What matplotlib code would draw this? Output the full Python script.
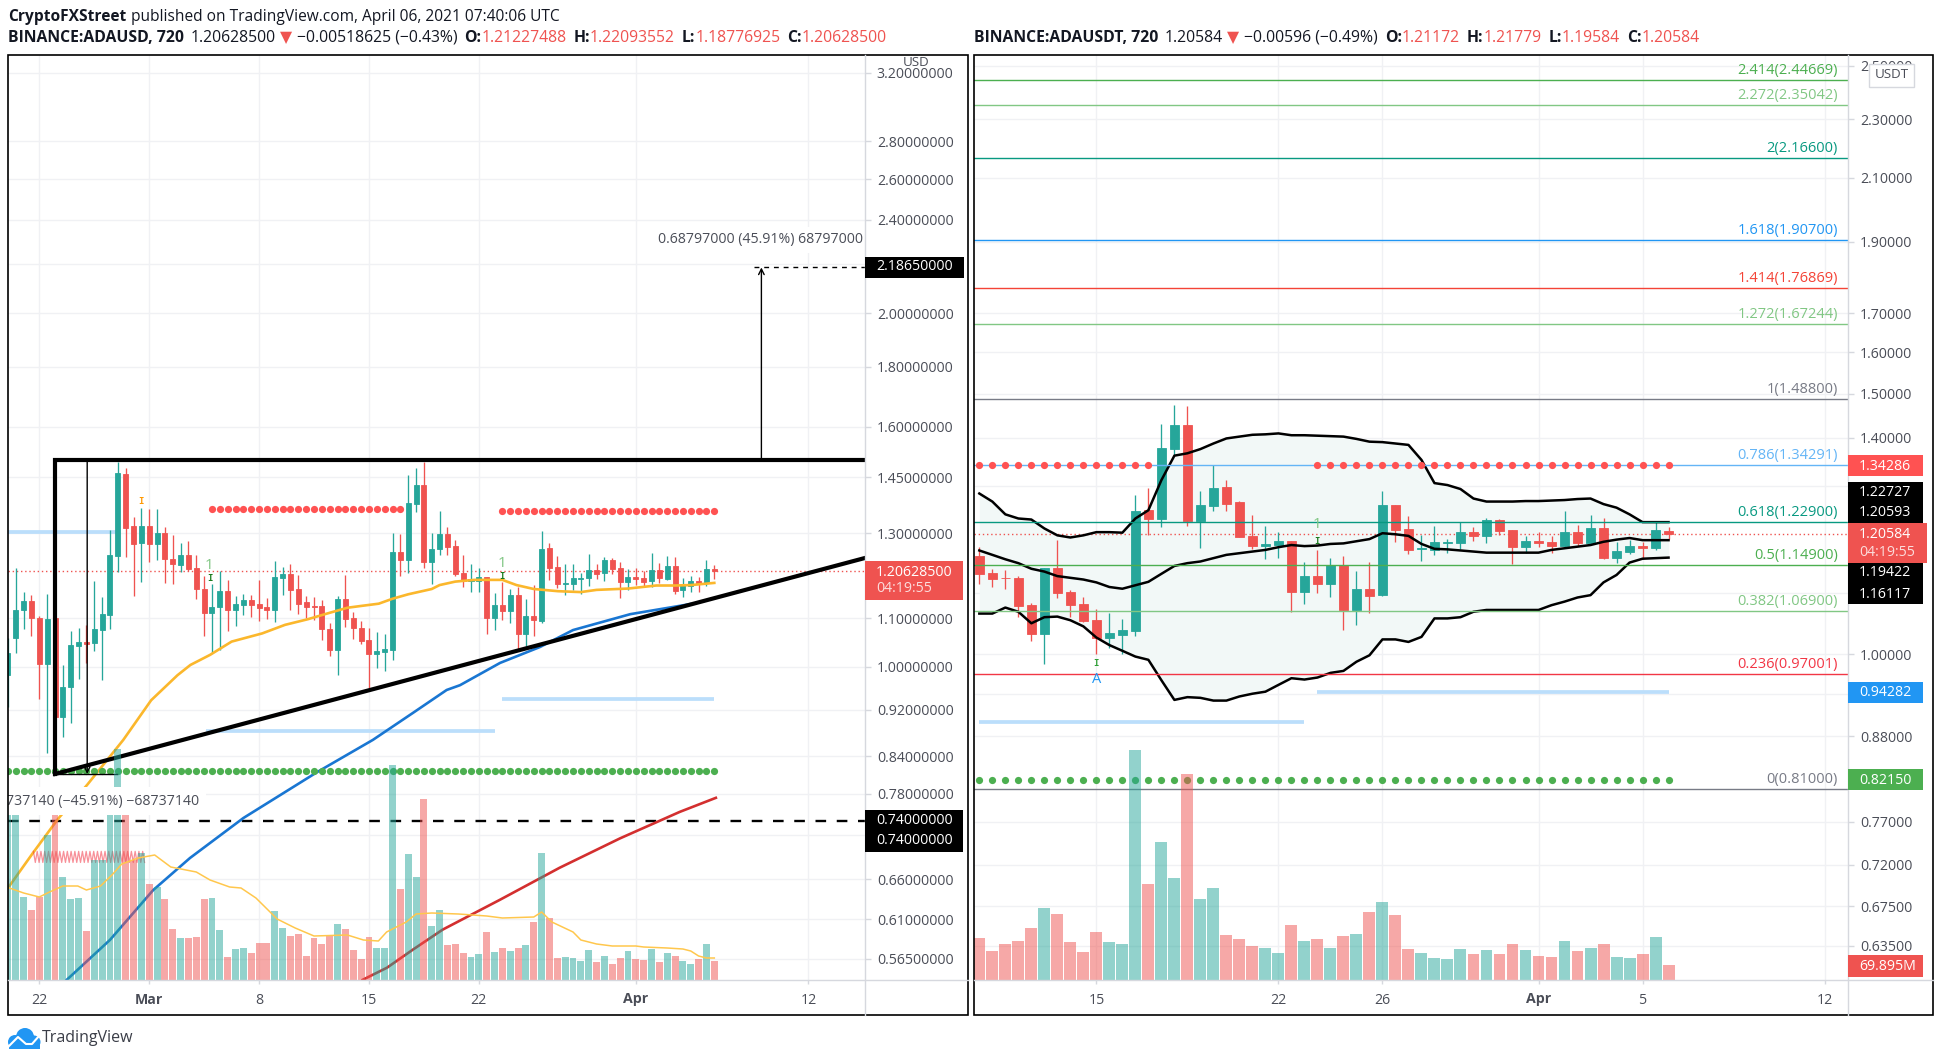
import numpy as np
import matplotlib
matplotlib.use('Agg')
import matplotlib.pyplot as plt
from matplotlib.patches import Rectangle, Circle

plt.rcParams['font.family'] = ['Open Sans', 'DejaVu Sans']

# ADAUSD, barras de 12h, indice 0 = 22 fev
usd_open = [0.985, 1.059, 1.117, 1.138, 1.100, 1.005, 1.100, 0.907, 0.962, 1.042, 1.050, 1.048, 1.075, 1.107, 1.243,
            1.459, 1.318, 1.275, 1.318, 1.272, 1.300, 1.235, 1.221, 1.245, 1.214, 1.165, 1.112, 1.125, 1.160, 1.118,
            1.129, 1.140, 1.131, 1.125, 1.118, 1.190, 1.200, 1.165, 1.136, 1.127, 1.127, 1.077, 1.034, 1.142, 1.100,
            1.079, 1.054, 1.026, 1.030, 1.034, 1.253, 1.233, 1.376, 1.428, 1.228, 1.260, 1.297, 1.267, 1.202, 1.183,
            1.183, 1.193, 1.100, 1.129, 1.116, 1.151, 1.067, 1.105, 1.094, 1.263, 1.216, 1.177, 1.176, 1.189, 1.190,
            1.209, 1.202, 1.233, 1.214, 1.181, 1.193, 1.190, 1.183, 1.209, 1.188, 1.219, 1.163, 1.172, 1.183, 1.179,
            1.2123]
usd_high = [1.058, 1.213, 1.158, 1.151, 1.104, 1.153, 1.104, 1.004, 1.073, 1.079, 1.086, 1.184, 1.147, 1.308, 1.494,
            1.477, 1.341, 1.365, 1.363, 1.363, 1.315, 1.295, 1.275, 1.280, 1.245, 1.195, 1.176, 1.207, 1.186, 1.149,
            1.153, 1.151, 1.186, 1.145, 1.231, 1.216, 1.224, 1.197, 1.149, 1.147, 1.140, 1.090, 1.149, 1.197, 1.113,
            1.094, 1.079, 1.071, 1.067, 1.300, 1.297, 1.456, 1.477, 1.494, 1.300, 1.357, 1.315, 1.282, 1.245, 1.224,
            1.214, 1.193, 1.156, 1.181, 1.165, 1.170, 1.143, 1.174, 1.305, 1.275, 1.243, 1.224, 1.224, 1.202, 1.248,
            1.224, 1.240, 1.238, 1.228, 1.211, 1.214, 1.207, 1.250, 1.226, 1.243, 1.240, 1.190, 1.195, 1.193, 1.233,
            1.2209]
usd_low = [0.925, 1.028, 1.077, 1.063, 0.939, 0.845, 0.815, 0.872, 0.897, 0.977, 1.007, 1.032, 0.975, 1.077, 1.205,
           1.240, 1.149, 1.181, 1.228, 1.233, 1.179, 1.176, 1.205, 1.207, 1.143, 1.062, 1.028, 1.034, 1.073, 1.084,
           1.107, 1.103, 1.094, 1.098, 1.092, 1.151, 1.118, 1.110, 1.100, 1.096, 1.054, 1.022, 0.984, 1.081, 1.056,
           1.046, 0.959, 0.998, 0.992, 1.014, 1.195, 1.202, 1.355, 1.214, 1.176, 1.245, 1.245, 1.195, 1.169, 1.158,
           1.158, 1.067, 1.075, 1.096, 1.090, 1.034, 1.042, 1.062, 1.090, 1.186, 1.167, 1.151, 1.163, 1.153, 1.172,
           1.188, 1.183, 1.200, 1.145, 1.163, 1.174, 1.169, 1.169, 1.179, 1.186, 1.153, 1.147, 1.158, 1.158, 1.172,
           1.1878]
usd_close = [1.027, 1.118, 1.138, 1.101, 1.005, 1.098, 0.907, 0.962, 1.044, 1.050, 1.047, 1.077, 1.110, 1.245, 1.462,
             1.313, 1.272, 1.318, 1.272, 1.300, 1.235, 1.223, 1.245, 1.211, 1.165, 1.112, 1.125, 1.160, 1.118, 1.131,
             1.140, 1.129, 1.122, 1.118, 1.193, 1.200, 1.163, 1.131, 1.125, 1.125, 1.077, 1.034, 1.142, 1.098, 1.079,
             1.052, 1.026, 1.032, 1.036, 1.253, 1.233, 1.379, 1.428, 1.228, 1.260, 1.297, 1.265, 1.200, 1.183, 1.188,
             1.193, 1.100, 1.129, 1.116, 1.151, 1.067, 1.105, 1.096, 1.260, 1.214, 1.176, 1.179, 1.190, 1.190, 1.209,
             1.200, 1.233, 1.211, 1.181, 1.193, 1.189, 1.181, 1.209, 1.190, 1.219, 1.160, 1.174, 1.183, 1.179, 1.211,
             1.2063]
usd_volume = [177, 177, 83, 70, 83, 145, 177, 103, 81, 82, 49, 120, 120, 177, 231, 177, 120, 127, 96, 93, 81, 51, 42,
              42, 43, 81, 82, 50, 23, 31, 32, 27, 37, 37, 69, 52, 44, 46, 24, 42, 36, 45, 56, 51, 30, 21, 43, 32, 32,
              215, 91, 126, 103, 181, 54, 70, 35, 36, 27, 23, 26, 48, 28, 32, 29, 32, 35, 58, 127, 62, 22, 23, 22, 19,
              30, 18, 24, 16, 22, 29, 21, 20, 31, 18, 27, 24, 19, 16, 21, 36, 19]

# medias e linhas da esquerda
ma_yellow_x = [-3.9, -0.8, 2.4, 6.1, 10.7, 14.25, 17.6, 19.25, 21.75, 24.5, 28.4, 31.3, 34.2, 37, 39.25, 41, 43.25, 45,
               47, 50, 51, 53, 55.4, 59, 60.8, 63, 66.1, 69, 71, 75, 78.6, 81, 83, 86]
ma_yellow = [0.650, 0.695, 0.743, 0.794, 0.867, 0.937, 0.984, 1.004, 1.024, 1.051, 1.068, 1.086, 1.098, 1.112, 1.123,
             1.127, 1.132, 1.143, 1.153, 1.165, 1.174, 1.182, 1.186, 1.186, 1.174, 1.165, 1.160, 1.158, 1.163, 1.166,
             1.173, 1.173, 1.174, 1.179]
ma_blue_x = [3.5, 9.0, 14.5, 19.2, 26, 35.4, 42.5, 47.6, 51.9, 53.6, 58.7, 63.8, 68, 75.3, 82.9]
ma_blue = [0.542, 0.586, 0.646, 0.688, 0.744, 0.814, 0.867, 0.914, 0.956, 0.965, 1.008, 1.040, 1.075, 1.109, 1.131]
ma_red_x = [41.2, 44.3, 47.6, 51.4, 58.7, 66.3, 74, 81.6, 86.2]
ma_red = [0.542, 0.555, 0.575, 0.598, 0.634, 0.675, 0.715, 0.753, 0.774]
vol_ma_x = [-3.8, -2, 0, 1.3, 3, 4.9, 6, 7.8, 9.25, 10.5, 12.6, 14.7, 16.75, 20, 21.75, 24.25, 25.7, 27.6, 30.3, 32.6,
            35, 39.25, 41.3, 43.2, 44.25, 46.75, 48, 50, 53.4, 57, 59, 63, 64, 65.3, 68, 69, 71, 73, 76, 77, 80, 82,
            83, 84, 85, 86]
vol_ma = [92, 87, 83, 88, 94, 94, 90, 94, 105, 116, 122, 125, 113, 108, 100, 93, 92, 82, 61, 52, 44, 45, 40, 39, 48, 58,
          66, 67, 66, 64, 62, 63, 68, 58, 48, 40, 36, 34, 34, 33, 32, 31, 29, 24, 22, 22]

# ADAUSDT, indice 0 = 15 mar
usdt_open = [1.165, 1.135, 1.126, 1.126, 1.079, 1.032, 1.143, 1.101, 1.081, 1.054, 1.026, 1.030, 1.037, 1.251, 1.234,
             1.376, 1.429, 1.230, 1.259, 1.297, 1.267, 1.202, 1.184, 1.185, 1.192, 1.101, 1.129, 1.115, 1.149, 1.071,
             1.106, 1.096, 1.261, 1.215, 1.177, 1.176, 1.189, 1.189, 1.209, 1.202, 1.232, 1.213, 1.181, 1.192, 1.191,
             1.183, 1.209, 1.189, 1.217, 1.161, 1.172, 1.183, 1.179, 1.2117]
usdt_high = [1.181, 1.142, 1.140, 1.129, 1.083, 1.143, 1.194, 1.105, 1.093, 1.073, 1.066, 1.056, 1.281, 1.295, 1.431,
             1.474, 1.472, 1.289, 1.342, 1.311, 1.269, 1.242, 1.221, 1.209, 1.192, 1.154, 1.176, 1.161, 1.165, 1.138,
             1.154, 1.289, 1.261, 1.240, 1.204, 1.221, 1.196, 1.228, 1.219, 1.236, 1.234, 1.213, 1.202, 1.209, 1.202,
             1.249, 1.222, 1.242, 1.236, 1.191, 1.194, 1.191, 1.228, 1.2178]
usdt_low = [1.115, 1.110, 1.106, 1.060, 1.021, 0.985, 1.091, 1.059, 1.051, 1.000, 1.010, 1.000, 1.028, 1.204, 1.219,
            1.363, 1.220, 1.179, 1.249, 1.249, 1.200, 1.178, 1.159, 1.161, 1.068, 1.081, 1.100, 1.093, 1.038, 1.046,
            1.066, 1.094, 1.191, 1.168, 1.156, 1.167, 1.170, 1.178, 1.193, 1.189, 1.204, 1.151, 1.171, 1.181, 1.171,
            1.181, 1.183, 1.187, 1.159, 1.152, 1.168, 1.160, 1.176, 1.1958]
usdt_close = [1.133, 1.124, 1.125, 1.077, 1.032, 1.143, 1.100, 1.079, 1.053, 1.026, 1.033, 1.038, 1.249, 1.234, 1.378,
              1.429, 1.230, 1.261, 1.295, 1.263, 1.200, 1.183, 1.187, 1.192, 1.101, 1.129, 1.115, 1.149, 1.071, 1.106,
              1.094, 1.261, 1.213, 1.176, 1.179, 1.191, 1.191, 1.209, 1.202, 1.232, 1.211, 1.181, 1.192, 1.189, 1.183,
              1.209, 1.189, 1.217, 1.161, 1.174, 1.183, 1.180, 1.213, 1.2058]
usdt_volume = [196, 135, 168, 182, 242, 336, 308, 177, 130, 224, 177, 168, 1072, 447, 643, 475, 960, 377, 429, 210, 191,
               158, 149, 126, 256, 182, 191, 149, 205, 214, 317, 363, 303, 144, 126, 103, 98, 144, 121, 140, 121, 168,
               140, 112, 107, 182, 135, 149, 168, 107, 103, 121, 200, 69.895]

bb_upper = [1.284, 1.268, 1.243, 1.235, 1.233, 1.216, 1.203, 1.199, 1.203, 1.209, 1.209, 1.208, 1.235, 1.251, 1.311,
            1.362, 1.367, 1.376, 1.388, 1.399, 1.403, 1.407, 1.408, 1.410, 1.406, 1.406, 1.405, 1.404, 1.403, 1.398,
            1.392, 1.391, 1.388, 1.385, 1.353, 1.305, 1.301, 1.293, 1.274, 1.268, 1.268, 1.268, 1.269, 1.269, 1.270,
            1.271, 1.273, 1.274, 1.263, 1.256, 1.243, 1.228, 1.228, 1.228]
bb_mid = [1.175, 1.167, 1.159, 1.152, 1.142, 1.137, 1.129, 1.126, 1.123, 1.118, 1.110, 1.107, 1.113, 1.119, 1.133, 1.147,
          1.152, 1.155, 1.161, 1.167, 1.170, 1.173, 1.176, 1.181, 1.185, 1.183, 1.184, 1.187, 1.188, 1.192, 1.196, 1.207,
          1.205, 1.202, 1.187, 1.178, 1.177, 1.175, 1.173, 1.171, 1.171, 1.171, 1.171, 1.171, 1.176, 1.179, 1.182, 1.185,
          1.191, 1.195, 1.198, 1.194, 1.194, 1.194]
bb_lower = [1.065, 1.065, 1.075, 1.068, 1.049, 1.059, 1.060, 1.054, 1.044, 1.026, 1.014, 1.005, 0.996, 0.991, 0.960,
            0.931, 0.935, 0.934, 0.930, 0.930, 0.936, 0.940, 0.943, 0.953, 0.963, 0.961, 0.964, 0.971, 0.974, 0.988,
            0.998, 1.023, 1.023, 1.019, 1.027, 1.057, 1.057, 1.059, 1.068, 1.071, 1.071, 1.071, 1.071, 1.071, 1.079,
            1.085, 1.092, 1.096, 1.118, 1.131, 1.153, 1.160, 1.161, 1.162]

fib_ratio = ['2.414', '2.272', '2', '1.618', '1.414', '1.272', '1', '0.786', '0.618', '0.5', '0.382', '0.236', '0']
fib_price = [2.44669, 2.35042, 2.16600, 1.90700, 1.76869, 1.67244, 1.48800, 1.34291, 1.22900, 1.14900, 1.06900, 0.97001,
             0.81000]
fib_label = ['2.44669', '2.35042', '2.16600', '1.90700', '1.76869', '1.67244', '1.48800', '1.34291', '1.22900',
             '1.14900', '1.06900', '0.97001', '0.81000']
fib_color = ['#4caf50', '#81c784', '#089981', '#2196f3', '#f44336', '#81c784', '#787b86', '#64b5f6', '#089981',
             '#4caf50', '#81c784', '#f23645', '#787b86']

usd_ticks = [3.2, 2.8, 2.6, 2.4, 2.2, 2.0, 1.8, 1.6, 1.45, 1.3, 1.1, 1.0, 0.92, 0.84, 0.78, 0.72, 0.66, 0.61, 0.565]
usd_hidden = [2.2, 0.72]
usdt_ticks = [2.5, 2.3, 2.1, 1.9, 1.7, 1.6, 1.5, 1.4, 1.3, 1.1, 1.0, 0.94, 0.88, 0.77, 0.72, 0.675, 0.635]
usdt_hidden = [1.3, 1.1, 0.94]

usd_dates = [0, 14, 28, 42, 56, 76, 98]
usd_date_labels = ['22', 'Mar', '8', '15', '22', 'Apr', '12']
usdt_dates = [0, 14, 22, 34, 42, 56]
usdt_date_labels = ['15', '22', '26', 'Apr', '5', '12']

UP = '#26a69a'
DOWN = '#ef5350'
GRID = '#f0f1f4'
AXIS = '#d6d8de'
TXT = '#4a4d57'
W, H = 1942, 1062
FS = 10.2


def make_panel(x0, x1, ylim, xlim, ticks, hidden, decimals, dates, date_labels):
    ax = fig.add_axes([x0 / W, (H - 980) / H, (x1 - x0) / W, 925 / H])
    ax.set_yscale('log')
    ax.set_ylim(*ylim)
    ax.set_xlim(*xlim)
    ax.set_yticks(ticks)
    ax.set_yticklabels(['' if t in hidden else f'{t:.{decimals}f}' for t in ticks])
    ax.minorticks_off()
    ax.set_xticks(dates)
    ax.set_xticklabels(date_labels)
    for lab in ax.get_xticklabels():
        if lab.get_text() in ('Mar', 'Apr'):
            lab.set_fontweight('bold')
    ax.tick_params(axis='y', length=4, width=1, color=AXIS, labelsize=FS, labelcolor=TXT, pad=4.5)
    ax.tick_params(axis='x', length=3, width=1, color=AXIS, labelsize=FS, labelcolor=TXT, pad=6)
    ax.grid(True, color=GRID, lw=1)
    ax.set_axisbelow(True)
    for s in ax.spines.values():
        s.set_visible(False)
    return ax


def candles(ax, x, o, h, l, c, width):
    colors = [UP if cc >= oo else DOWN for oo, cc in zip(o, c)]
    ax.vlines(x, l, h, colors=colors, lw=0.95, zorder=3)
    bottoms = np.minimum(o, c)
    heights = np.abs(np.array(c) - np.array(o))
    ax.bar(x, heights, width, bottom=bottoms, color=colors, edgecolor=colors, lw=0.6, zorder=4)
    return colors


def dots(ax, start, stop, price, color):
    xs = np.arange(start, stop + 1)
    ax.plot(xs, [price] * len(xs), ls='none', marker='o', ms=5.2, mfc=color, mec='none', zorder=6)


def band(ax, start, stop, price):
    ax.plot([start, stop], [price, price], color='#bbdefb', lw=2.7, solid_capstyle='butt', zorder=2)


def mini_mark(ax, x, price, color):
    ax.text(x, price, 'I', family='DejaVu Sans Mono', fontsize=6.5, fontweight='bold', color=color,
            ha='center', va='center', zorder=7)


fig = plt.figure(figsize=(W / 100, H / 100), dpi=100, facecolor='white')

# painel esquerdo
ax1 = make_panel(8, 865, (np.exp((667 - 980) / 510.7), np.exp((667 - 55) / 510.7)), (-3.99, 105.2),
                 usd_ticks, usd_hidden, 8, usd_dates, usd_date_labels)
x1 = np.arange(-4, 87)
colors1 = candles(ax1, x1, usd_open, usd_high, usd_low, usd_close, 0.64)
ax1.axhline(1.20628, color=DOWN, lw=1, ls=(0, (1, 2)), zorder=2)
ax1.axhline(0.74, color='black', lw=1.7, ls=(0, (4.5, 4.5)), zorder=5)
band(ax1, -4, 10, 1.303)
band(ax1, 21.3, 58, 0.883)
band(ax1, 59, 86, 0.939)
dots(ax1, 22, 46, 1.362, '#ff5252')
dots(ax1, 59, 86, 1.357, '#ff5252')
dots(ax1, -4, 86, 0.816, '#4caf50')
ax1.plot(ma_yellow_x, ma_yellow, color='#fbb72c', lw=1.9, zorder=5)
ax1.plot(ma_blue_x, ma_blue, color='#1976d2', lw=1.9, zorder=5)
ax1.plot(ma_red_x, ma_red, color='#d32f2f', lw=1.9, zorder=5)

# triangulo e ferramentas de medida
ax1.plot([2, 2, 105.2], [0.811, 1.4985, 1.4985], color='black', lw=3, zorder=8, solid_joinstyle='miter')
ax1.plot([2, 105.2], [0.811, 1.238], color='black', lw=3, zorder=8)
ax1.annotate('', xy=(6.1, 0.811), xytext=(6.1, 1.4985),
             arrowprops=dict(arrowstyle='->', color='black', lw=1, shrinkA=0, shrinkB=0), zorder=8)
ax1.plot([2, 9.9], [0.811, 0.811], color='black', lw=1, zorder=8)
ax1.annotate('', xy=(92, 2.1865), xytext=(92, 1.4985),
             arrowprops=dict(arrowstyle='->', color='black', lw=1, shrinkA=0, shrinkB=0), zorder=8)
ax1.plot([91, 105.2], [2.1865, 2.1865], color='black', lw=1, ls=(0, (3.5, 3.5)), zorder=8)

# zigue-zague vermelho
zig_hi = 0.697
zig_lo = 0.682
zig_x = np.arange(-0.75, 13.5, 0.24)
zig_y = [zig_hi if i % 2 == 0 else zig_lo for i in range(len(zig_x))]
ax1.plot(zig_x, zig_y, color='#f23645', lw=0.9, alpha=0.55, zorder=5)

mini_mark(ax1, 13, 1.382, '#ff9800')
mini_mark(ax1, 21.7, 1.189, '#1b7a1f')
mini_mark(ax1, 59, 1.195, '#1b7a1f')
ax1.text(21.6, 1.219, '1', color='#81c784', fontsize=11, ha='center', va='center', zorder=7)
ax1.text(59, 1.224, '1', color='#81c784', fontsize=11, ha='center', va='center', zorder=7)

vol1 = ax1.twinx()
vol1.set_ylim(0, 925)
vol1.set_axis_off()
vol1.bar(x1, usd_volume, 0.88, color=colors1, alpha=0.5, lw=0)
vol1.plot(vol_ma_x, vol_ma, color='#ffc74d', lw=1.1)
vol1.text(0.2229, 0.1935, '737140 (\u221245.91%) \u221268737140', transform=vol1.transAxes, ha='right', va='center',
          fontsize=FS, color=TXT, zorder=20, clip_on=True,
          bbox=dict(fc='white', ec='none', pad=5))
vol1.text(0.998, 0.8, '0.68797000 (45.91%) 68797000', transform=vol1.transAxes, ha='right', va='center',
          fontsize=FS, color=TXT, zorder=20, bbox=dict(fc='white', ec='none', pad=4))
ax1.yaxis.tick_right()  # twinx manda os ticks para a esquerda

# painel direito
ax2 = make_panel(974, 1848, (np.exp((654 - 980) / 642), np.exp((654 - 55) / 642)), (-9.41, 57.8),
                 usdt_ticks, usdt_hidden, 5, usdt_dates, usdt_date_labels)
x2 = np.arange(-9, 45)
ax2.fill_between(x2, bb_lower, bb_upper, color='#f2f8f7', lw=0, zorder=1)
colors2 = candles(ax2, x2, usdt_open, usdt_high, usdt_low, usdt_close, 0.69)
ax2.plot(x2, bb_upper, color='black', lw=1.8, zorder=5)
ax2.plot(x2, bb_mid, color='black', lw=1.8, zorder=5)
ax2.plot(x2, bb_lower, color='black', lw=1.8, zorder=5)
ax2.axhline(1.20584, color=DOWN, lw=1, ls=(0, (1, 2)), zorder=2)
for ratio, price, lab, col in zip(fib_ratio, fib_price, fib_label, fib_color):
    ax2.axhline(price, color=col, lw=1, zorder=6)
    ax2.annotate(f'{ratio}({lab})', xy=(1, price), xycoords=('axes fraction', 'data'), xytext=(-10, 2),
                 textcoords='offset pixels', ha='right', va='bottom', fontsize=10.5, color=col, zorder=7)
dots(ax2, -9, 4, 1.34286, '#ff5252')
dots(ax2, 17, 44, 1.34286, '#ff5252')
dots(ax2, -9, 44, 0.8215, '#4caf50')
band(ax2, -9, 16, 0.899)
band(ax2, 17, 44, 0.94282)
mini_mark(ax2, 17, 1.192, '#1b7a1f')
mini_mark(ax2, 0, 0.985, '#2e9e35')
ax2.text(17, 1.223, '1', color='#81c784', fontsize=11, ha='center', va='center', zorder=7)
ax2.text(0, 0.961, 'A', color='#2196f3', fontsize=10.5, ha='center', va='center', zorder=7)

vol2 = ax2.twinx()
vol2.set_ylim(0, 925 * 4.66)
vol2.set_axis_off()
vol2.bar(x2, usdt_volume, 0.92, color=colors2, alpha=0.5, lw=0)
ax2.yaxis.tick_right()

# camada de cima: molduras, etiquetas, cabecalho
ov = fig.add_axes([0, 0, 1, 1], zorder=50)
ov.set_xlim(0, W)
ov.set_ylim(H, 0)
ov.axis('off')
for fx0, fx1, ax_x in [(8, 968, 865), (974, 1933, 1848)]:
    ov.plot([ax_x, ax_x], [55, 1015], color=AXIS, lw=1)
    ov.plot([fx0, fx1], [980, 980], color=AXIS, lw=1)
    ov.add_patch(Rectangle((fx0, 55), fx1 - fx0, 960, fc='none', ec='black', lw=1.2))


def tag(x0, x1, y0, y1, color, lines, x_text):
    ov.add_patch(Rectangle((x0, y0), x1 - x0, y1 - y0, fc=color, ec='none', zorder=3))
    for txt, y, alpha in lines:
        ov.text(x_text, y, txt, color='white', alpha=alpha, fontsize=FS, ha='left', va='center', zorder=4)


tag(865, 964, 257, 278, 'black', [('2.18650000', 267, 1)], 876)
tag(865, 963, 561, 600, '#ef5350', [('1.20628500', 572, 1), ('04:19:55', 589, 0.8)], 876)
tag(865, 963, 810, 852, 'black', [('0.74000000', 820, 1), ('0.74000000', 841, 1)], 876)
tag(1848, 1923, 455, 476, '#ff5252', [('1.34286', 466, 1)], 1859)
tag(1848, 1923, 482, 523, 'black', [('1.22727', 492, 1), ('1.20593', 513, 1)], 1859)
tag(1848, 1923, 563, 604, 'black', [('1.19422', 573, 1), ('1.16117', 594, 1)], 1859)
tag(1848, 1927, 523, 563, '#ef5350', [('1.20584', 534, 1), ('04:19:55', 552, 0.8)], 1859)
tag(1848, 1923, 682, 703, '#2196f3', [('0.94282', 693, 1)], 1859)
tag(1848, 1923, 769, 790, '#4caf50', [('0.82150', 780, 1)], 1859)
tag(1848, 1923, 955, 977, '#ef5350', [('69.895M', 966, 1)], 1859)
ov.text(916, 62, 'USD', fontsize=9.6, color=TXT, ha='center', va='center')
ov.add_patch(Rectangle((1869, 64), 45, 23, fc='white', ec='#d6d8de', lw=1, zorder=3))
ov.text(1891.5, 75, 'USDT', fontsize=9.6, color=TXT, ha='center', va='center', zorder=4)

renderer = fig.canvas.get_renderer()
DARK = '#131722'


def write_parts(x, y, parts, size):
    for txt, weight, col, gap in parts:
        t = ov.text(x, y, txt, fontsize=size, fontweight=weight, color=col, ha='left', va='center')
        x += t.get_window_extent(renderer).width + gap


write_parts(8, 17, [('CryptoFXStreet', 'bold', DARK, 5),
                    ('published on TradingView.com, April 06, 2021 07:40:06 UTC', 'normal', DARK, 0)], 11.2)
write_parts(8, 38, [('BINANCE:ADAUSD, 720', 'bold', DARK, 6.5), ('1.20628500', 'normal', DARK, 4.5),
                    ('\u25bc', 'normal', DOWN, 4.5), ('\u22120.00518625 (\u22120.43%)', 'normal', DARK, 7),
                    ('O:', 'bold', DARK, 0), ('1.21227488', 'normal', DOWN, 7), ('H:', 'bold', DARK, 0),
                    ('1.22093552', 'normal', DOWN, 7), ('L:', 'bold', DARK, 0), ('1.18776925', 'normal', DOWN, 7),
                    ('C:', 'bold', DARK, 0), ('1.20628500', 'normal', DOWN, 0)], 11.3)
write_parts(974, 38, [('BINANCE:ADAUSDT, 720', 'bold', DARK, 6.5), ('1.20584', 'normal', DARK, 4.5),
                      ('\u25bc', 'normal', DOWN, 4.5), ('\u22120.00596 (\u22120.49%)', 'normal', DARK, 7),
                      ('O:', 'bold', DARK, 0), ('1.21172', 'normal', DOWN, 7), ('H:', 'bold', DARK, 0),
                      ('1.21779', 'normal', DOWN, 7), ('L:', 'bold', DARK, 0), ('1.19584', 'normal', DOWN, 7),
                      ('C:', 'bold', DARK, 0), ('1.20584', 'normal', DOWN, 0)], 11.3)

# logo
BLUE = '#2196f3'
for cx, cy, r in [(15, 1042, 7), (25, 1037, 9), (34, 1042, 6.5)]:
    ov.add_patch(Circle((cx, cy), r, fc=BLUE, ec='none'))
ov.add_patch(Rectangle((9, 1041), 31, 8, fc=BLUE, ec='none'))
ov.plot([9, 18, 26, 32, 39], [1046, 1037, 1044, 1044, 1036], color='white', lw=1.5)
ov.text(42, 1038, 'TradingView', fontsize=11.5, color='#3a3d47', ha='left', va='center')

fig.savefig('out.png', dpi=100)
